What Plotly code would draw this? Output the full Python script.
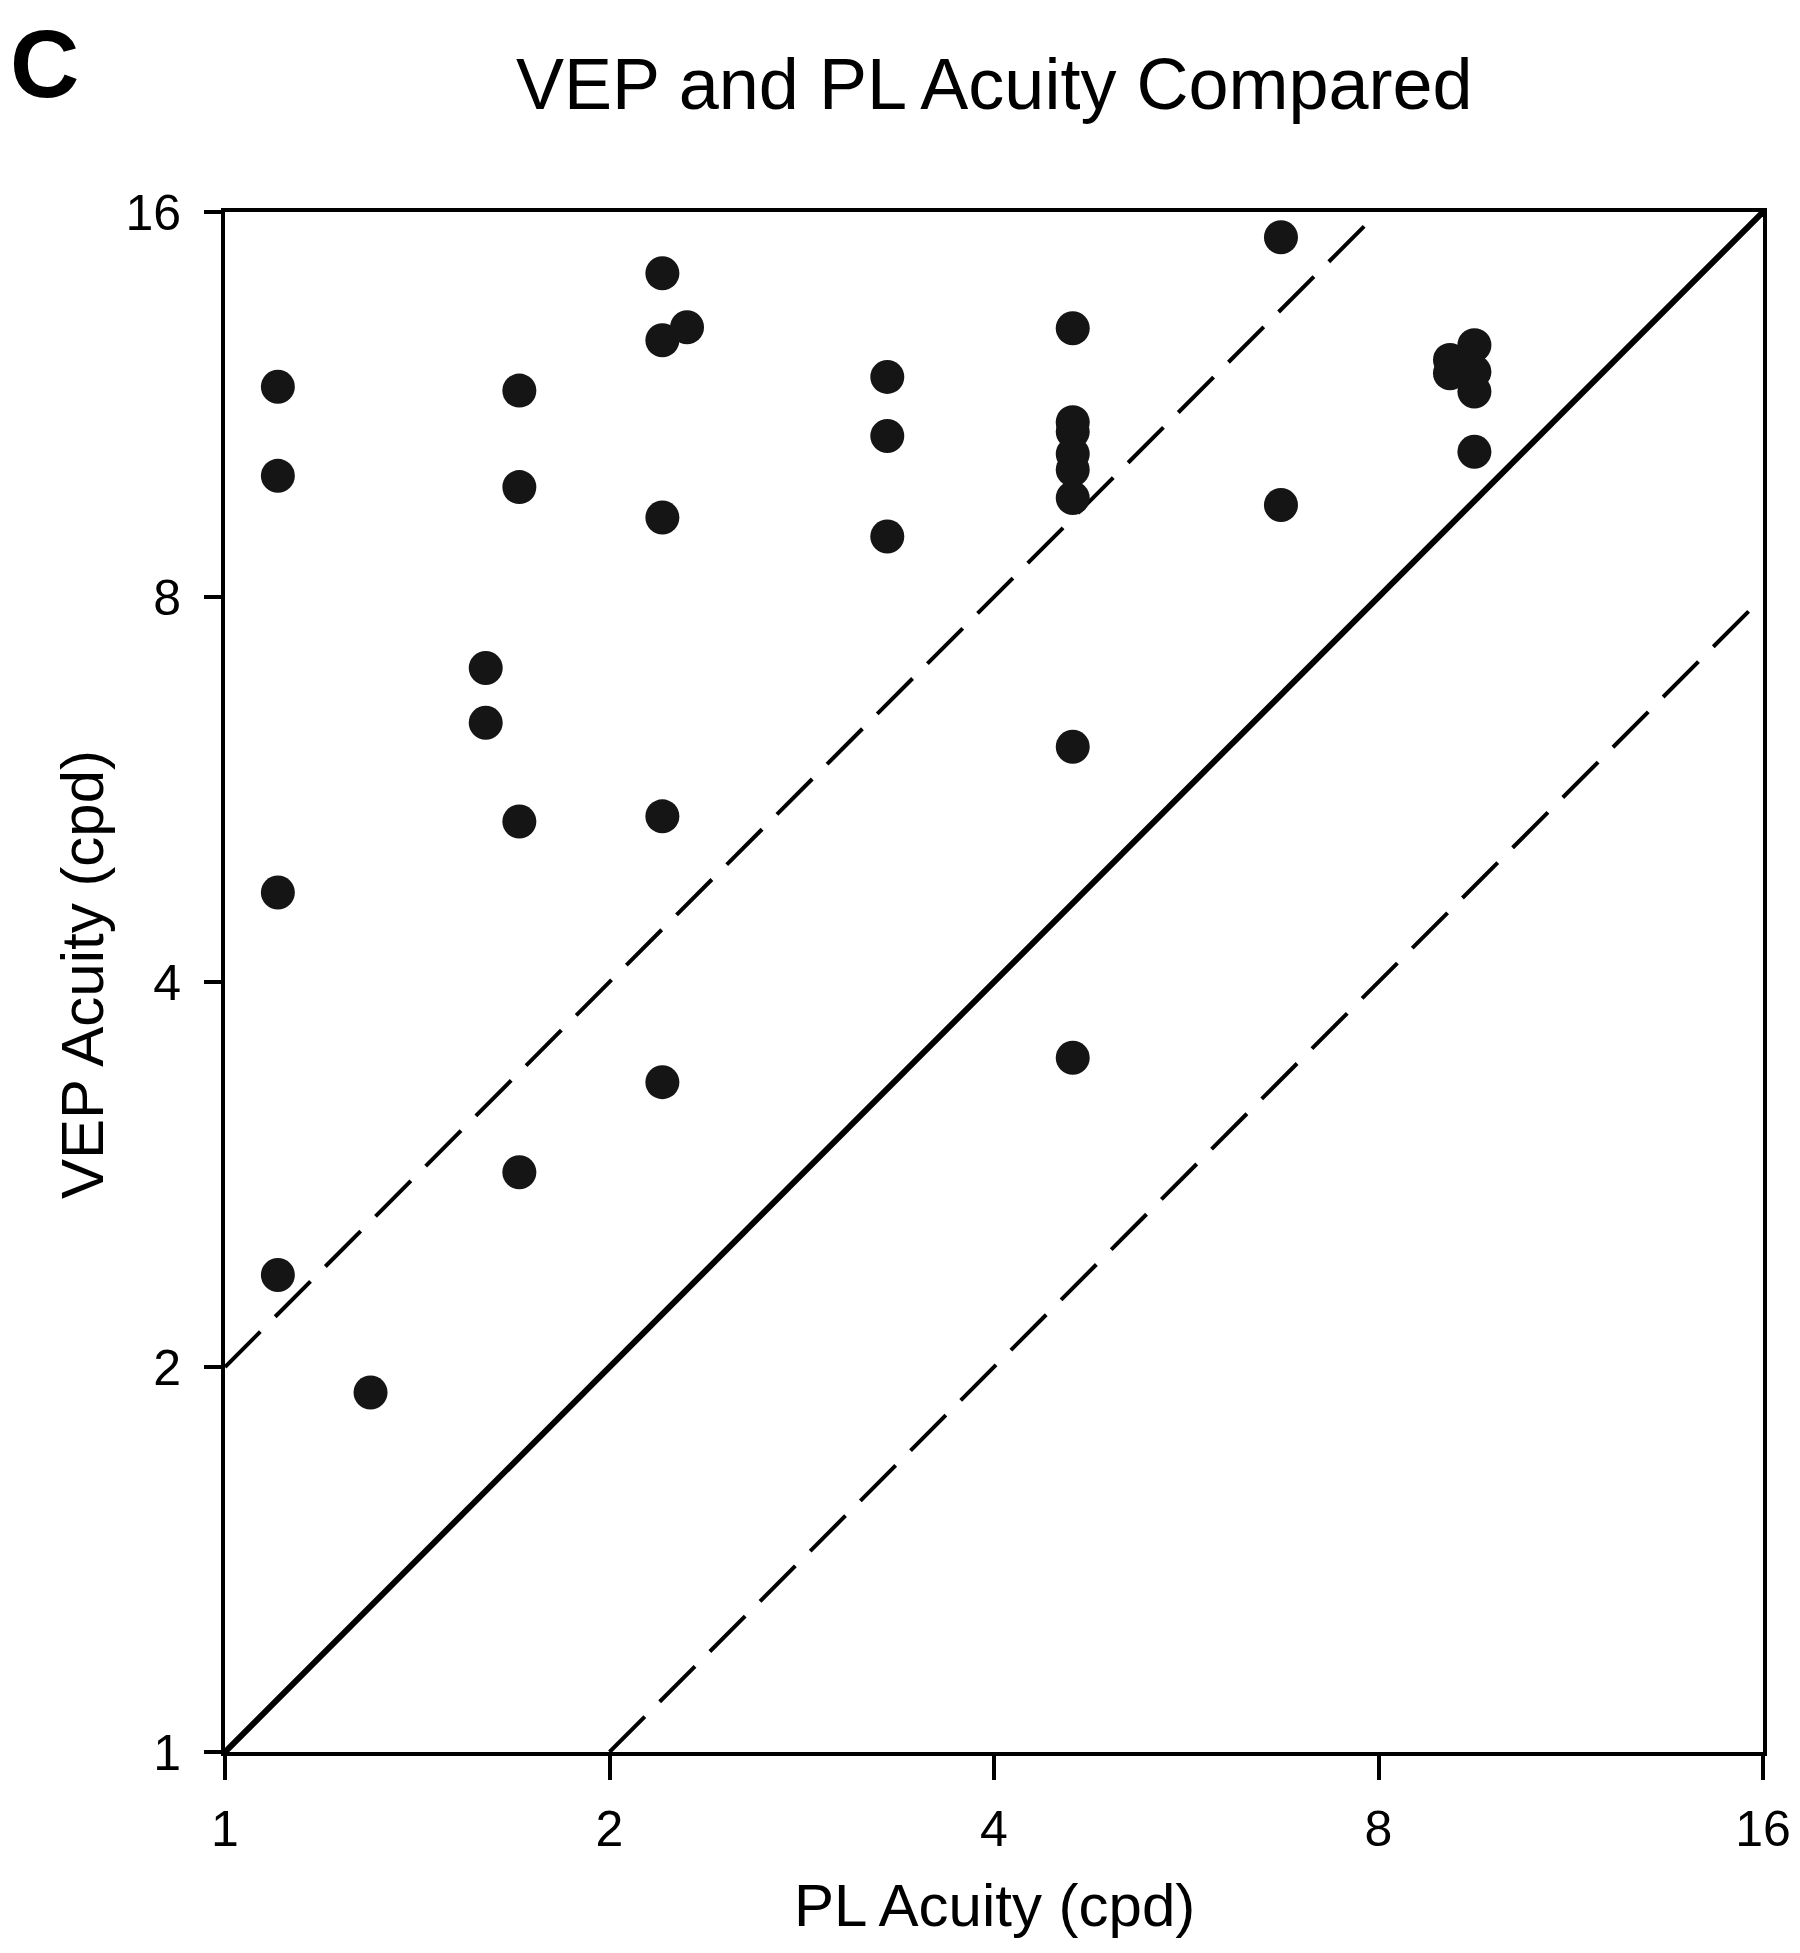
import plotly.graph_objects as go

# --- data ---
pl_acuity = [1.10, 1.10, 1.10, 1.10,
             1.30,
             1.60, 1.60,
             1.70, 1.70, 1.70, 1.70,
             2.20, 2.20, 2.30, 2.20, 2.20, 2.20,
             3.30, 3.30, 3.30,
             4.61, 4.61, 4.61, 4.61, 4.61, 4.61, 4.61, 4.61,
             6.71, 6.71,
             9.10, 9.10,
             9.51, 9.51, 9.51, 9.51]
vep_acuity = [11.68, 9.95, 4.70, 2.36,
              1.91,
              7.04, 6.38,
              11.60, 9.75, 5.34, 2.84,
              14.33, 12.70, 13.00, 9.23, 5.39, 3.34,
              11.89, 10.69, 8.92,
              12.98, 10.96, 10.77, 10.35, 10.06, 9.56, 6.11, 3.49,
              15.29, 9.44,
              12.26, 11.97,
              12.59, 12.00, 11.58, 10.39]

identity_x = [1, 16]
identity_y = [1, 16]
upper_x = [1, 8]
upper_y = [2, 16]
lower_x = [2, 16]
lower_y = [1, 8]

tick_vals = [1, 2, 4, 8, 16]
tick_text = ["1", "2", "4", "8", "16"]

FONT = "Liberation Sans, Arial, Helvetica, sans-serif"

# page has an 8px body margin; figure is sized so page stays 1800x1953
W, H = 1784, 1937
L, R, T, B = 217, 29, 204, 193
PW, PH = W - L - R, H - T - B

fig = go.Figure()
fig.add_trace(go.Scatter(x=upper_x, y=upper_y, mode="lines",
                         line=dict(color="black", width=4, dash="50px,21px"),
                         showlegend=False, hoverinfo="skip"))
fig.add_trace(go.Scatter(x=lower_x, y=lower_y, mode="lines",
                         line=dict(color="black", width=4, dash="50px,21px"),
                         showlegend=False, hoverinfo="skip"))
fig.add_trace(go.Scatter(x=identity_x, y=identity_y, mode="lines",
                         line=dict(color="black", width=6),
                         showlegend=False, hoverinfo="skip"))
fig.add_trace(go.Scatter(x=pl_acuity, y=vep_acuity, mode="markers",
                         marker=dict(size=34, color="#151515", line=dict(width=0)),
                         showlegend=False))

axis_common = dict(
    type="log",
    range=[0, 1.2041199827],
    tickvals=tick_vals,
    ticktext=tick_text,
    showgrid=False,
    zeroline=False,
    showline=True,
    linecolor="black",
    linewidth=4,
    mirror=True,
    ticks="outside",
    tickwidth=4,
    tickcolor="black",
    tickfont=dict(family=FONT, size=50, color="black"),
)

fig.update_layout(
    width=W, height=H,
    margin=dict(l=L, r=R, t=T, b=B, autoexpand=False),
    paper_bgcolor="white", plot_bgcolor="white",
    font=dict(family=FONT, color="black"),
    xaxis=dict(**axis_common, ticklen=24, ticklabelstandoff=6),
    yaxis=dict(**axis_common, ticklen=17, ticklabelstandoff=13),
)


def px_x(p):
    # page pixel -> paper coord
    return (p - 8 - L) / PW


def px_y(p):
    return (T + PH - (p - 8)) / PH


fig.add_annotation(text="VEP and PL Acuity Compared", x=px_x(994), y=px_y(84),
                   xref="paper", yref="paper", xanchor="center", yanchor="middle",
                   showarrow=False, font=dict(family=FONT, size=72, color="black"))
fig.add_annotation(text="<b>C</b>", x=px_x(8), y=px_y(8),
                   xref="paper", yref="paper", xanchor="left", yanchor="top",
                   showarrow=False, font=dict(family=FONT, size=96, color="black"))
fig.add_annotation(text="PL Acuity (cpd)", x=px_x(994), y=px_y(1905),
                   xref="paper", yref="paper", xanchor="center", yanchor="middle",
                   showarrow=False, font=dict(family=FONT, size=60, color="black"))
fig.add_annotation(text="VEP Acuity (cpd)", x=px_x(82), y=px_y(975),
                   xref="paper", yref="paper", xanchor="center", yanchor="middle",
                   textangle=-90,
                   showarrow=False, font=dict(family=FONT, size=60, color="black"))

fig.write_html("out.html")
